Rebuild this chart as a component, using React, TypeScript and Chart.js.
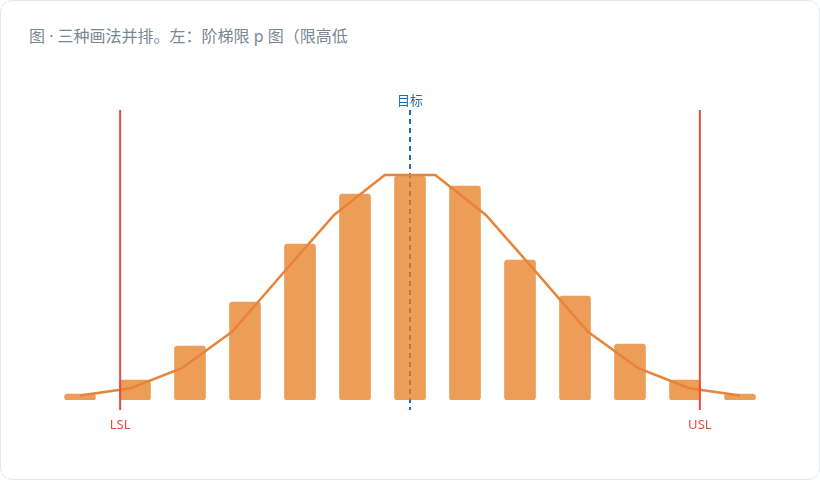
import React, { useEffect, useRef } from "react";
import { Chart, registerables } from "chart.js";

Chart.register(...registerables);

// bin index of each bar (bin centres) and the count in it
const binX = [0, 1, 2, 3, 4, 5, 6, 7, 8, 9, 10, 11, 12];
const binCounts = [3, 10, 27, 49, 78, 103, 112, 107, 70, 52, 28, 10, 3];

// fitted normal curve, sampled at 14 points over the same range
const curveX = [0, 0.92, 1.85, 2.77, 3.69, 4.62, 5.54, 6.46, 7.38, 8.31, 9.23, 10.15, 11.08, 12];
const curveY = [2.2, 5.9, 15.9, 34.2, 63.4, 92.5, 112.5, 112.5, 92.5, 63.4, 34.2, 15.9, 5.9, 2.2];

const LSL = 0.73;
const USL = 11.27;
const TARGET = 6;

const title = "图 · 三种画法并排。左：阶梯限 p 图（限高低";

const limitsPlugin = {
	id: "specLimits",
	beforeDatasetsDraw(chart: Chart) {
		const { ctx, chartArea } = chart;
		const x = chart.scales.x.getPixelForValue(TARGET);
		ctx.save();
		ctx.strokeStyle = "#1f6fb4";
		ctx.lineWidth = 2;
		ctx.setLineDash([5, 4]);
		ctx.beginPath();
		ctx.moveTo(x, chartArea.top + 10);
		ctx.lineTo(x, chartArea.bottom + 10);
		ctx.stroke();
		ctx.restore();
	},
	afterDatasetsDraw(chart: Chart) {
		const { ctx, chartArea } = chart;
		ctx.save();
		ctx.strokeStyle = "#e74c3c";
		ctx.lineWidth = 2;
		[LSL, USL].forEach((v) => {
			const x = chart.scales.x.getPixelForValue(v);
			ctx.beginPath();
			ctx.moveTo(x, chartArea.top + 10);
			ctx.lineTo(x, chartArea.bottom + 10);
			ctx.stroke();
		});
		ctx.font = '13px "Noto Sans", "Noto Sans CJK SC", sans-serif';
		ctx.textAlign = "center";
		ctx.textBaseline = "middle";
		ctx.fillStyle = "#e74c3c";
		ctx.fillText("LSL", chart.scales.x.getPixelForValue(LSL), chartArea.bottom + 25);
		ctx.fillText("USL", chart.scales.x.getPixelForValue(USL), chartArea.bottom + 25);
		ctx.fillStyle = "#1f6fb4";
		ctx.font = '13px "Noto Sans CJK SC", sans-serif';
		ctx.fillText("目标", chart.scales.x.getPixelForValue(TARGET), chartArea.top);
		ctx.restore();
	},
};

const App: React.FC = () => {
	const chartRef = useRef<HTMLCanvasElement>(null);
	const chartInstance = useRef<Chart>();

	useEffect(() => {
		if (!chartRef.current) return;
		const ctx = chartRef.current.getContext("2d");
		if (!ctx) return;
		chartInstance.current = new Chart(ctx, {
			type: "bar",
			data: {
				datasets: [
					{
						type: "line",
						label: "正态拟合",
						data: curveX.map((x, i) => ({ x, y: curveY[i] })),
						borderColor: "#e8833a",
						borderWidth: 2.5,
						pointRadius: 0,
						tension: 0,
						fill: false,
						order: 0,
					},
					{
						type: "bar",
						label: "频数",
						data: binX.map((x, i) => ({ x, y: binCounts[i] })),
						backgroundColor: "rgba(230, 126, 34, 0.75)",
						borderWidth: 0,
						borderRadius: 3,
						borderSkipped: false,
						barThickness: 31,
						order: 1,
					},
				],
			},
			options: {
				animation: false,
				responsive: true,
				maintainAspectRatio: false,
				layout: { padding: { left: 52.5, right: 52.5, top: 100, bottom: 80 } },
				scales: {
					x: { type: "linear", min: -0.5, max: 12.5, offset: false, display: false },
					y: { min: 0, max: 150, display: false },
				},
				plugins: {
					legend: { display: false },
					tooltip: { enabled: false },
				},
			},
			plugins: [limitsPlugin],
		});

		return () => {
			if (chartInstance.current) {
				chartInstance.current.destroy();
			}
		};
	}, []);

	return (
		<div
			style={{
				position: "fixed",
				left: 0,
				top: 0,
				width: 820,
				height: 480,
				boxSizing: "border-box",
				border: "1px solid #e3e8ef",
				borderRadius: 12,
				background: "#fff",
				overflow: "hidden",
			}}
		>
			<div
				style={{
					position: "absolute",
					left: 28,
					top: 24,
					fontFamily: '"Noto Sans", "Noto Sans CJK SC", sans-serif',
					fontSize: 16,
					lineHeight: "22px",
					color: "#7a8694",
					whiteSpace: "nowrap",
				}}
			>
				{title}
			</div>
			<div style={{ position: "absolute", left: -1, top: -1, width: 820, height: 480 }}>
				<canvas ref={chartRef} />
			</div>
		</div>
	);
};

export default App;
